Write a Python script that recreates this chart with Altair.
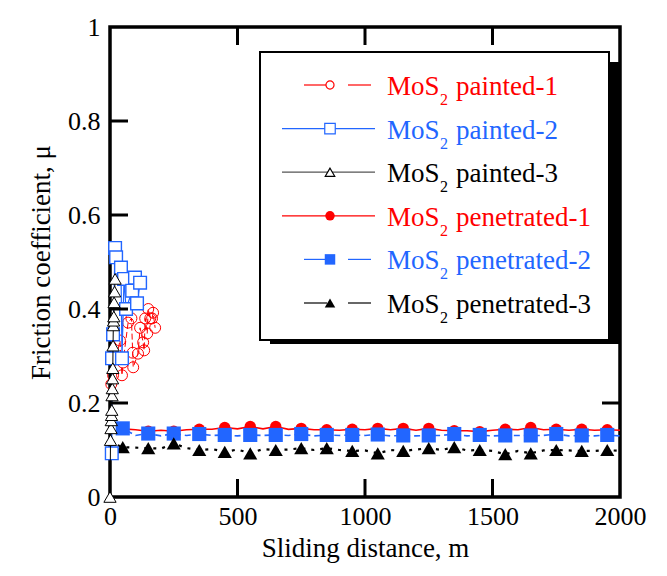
import altair as alt
import pandas as pd

# ---------------- data ----------------
# MoS2 painted-1 (open red circles, dashed red line)
painted1_x = [5, 12, 39, 47, 51, 71, 84, 89, 91, 110, 118, 130, 134, 138, 146, 150, 158, 165, 169, 177]
painted1_y = [0.24, 0.259, 0.333, 0.259, 0.286, 0.371, 0.38, 0.307, 0.276, 0.305, 0.36, 0.329, 0.312,
              0.38, 0.348, 0.40, 0.38, 0.38, 0.392, 0.36]
# MoS2 painted-2 (open blue squares, solid blue line)
painted2_x = [7, 8, 12, 20, 24, 43, 47, 55, 63, 87, 98, 106, 118]
painted2_y = [0.093, 0.295, 0.346, 0.53, 0.51, 0.488, 0.295, 0.464, 0.40, 0.439, 0.467, 0.412, 0.456]
# MoS2 painted-3 (open black triangles, solid black line)
painted3_x = [0, 2, 4, 5, 6, 7, 8, 9, 10, 11, 12, 13, 14, 15, 16, 18, 20]
painted3_y = [0.0, 0.121, 0.146, 0.163, 0.174, 0.185, 0.216, 0.231, 0.252, 0.274, 0.322, 0.365, 0.375,
              0.384, 0.414, 0.437, 0.464]

# penetrated series: markers every 100 m
pen_x = [50, 150, 250, 350, 450, 550, 650, 750, 850, 950, 1050, 1150, 1250, 1350, 1450, 1550, 1650,
         1750, 1850, 1950]
pen1_y = [0.145, 0.140, 0.140, 0.144, 0.148, 0.150, 0.150, 0.146, 0.143, 0.144, 0.146, 0.146, 0.146,
          0.141, 0.139, 0.144, 0.148, 0.144, 0.144, 0.143]
pen2_y = [0.146, 0.135, 0.135, 0.134, 0.132, 0.132, 0.132, 0.134, 0.132, 0.132, 0.133, 0.131, 0.131,
          0.134, 0.132, 0.131, 0.131, 0.134, 0.131, 0.132]
pen3_y = [0.106, 0.104, 0.114, 0.100, 0.096, 0.093, 0.100, 0.104, 0.104, 0.098, 0.093, 0.098, 0.104,
          0.106, 0.100, 0.091, 0.093, 0.100, 0.098, 0.100]
# continuous trace between the markers
line_x = [30, 100, 200, 300, 400, 500, 600, 700, 800, 900, 1000, 1100, 1200, 1300, 1400, 1500, 1600,
          1700, 1800, 1900, 2000]
pen1_line = [0.150, 0.143, 0.142, 0.143, 0.144, 0.145, 0.145, 0.144, 0.143, 0.142, 0.143, 0.143, 0.142,
             0.142, 0.141, 0.142, 0.143, 0.143, 0.142, 0.142, 0.142]
pen2_line = [0.150, 0.131, 0.130, 0.131, 0.131, 0.130, 0.131, 0.131, 0.130, 0.131, 0.131, 0.130, 0.130,
             0.131, 0.130, 0.130, 0.131, 0.131, 0.130, 0.130, 0.130]
pen3_line = [0.110, 0.105, 0.103, 0.104, 0.102, 0.101, 0.102, 0.101, 0.100, 0.100, 0.099, 0.100, 0.101,
             0.100, 0.099, 0.098, 0.098, 0.099, 0.099, 0.098, 0.098]

x_ticks = [0, 500, 1000, 1500, 2000]
y_ticks = [0, 0.2, 0.4, 0.6, 0.8, 1]
inner_x_ticks = [500, 1000, 1500]
inner_y_ticks = [0.2, 0.4, 0.6, 0.8]

legend_labels = ["painted-1", "painted-2", "painted-3", "penetrated-1", "penetrated-2", "penetrated-3"]

# ---------------- styling ----------------
W, H = 510, 470
FONT = "Times New Roman, Liberation Serif, DejaVu Serif, serif"
RED, BLUE, BLACK = "#ff0000", "#2266ff", "#000000"

xs = alt.Scale(domain=[0, 2000], nice=False)
ys = alt.Scale(domain=[0, 1], nice=False)
xaxis = alt.Axis(values=x_ticks, format="d", title="Sliding distance, m", labelPadding=6,
                 titlePadding=6, labelFlush=False)
yaxis = alt.Axis(values=y_ticks, format="~g", title="Friction coefficient, μ", labelPadding=10,
                 titlePadding=12, labelFlush=False)
X = alt.X("x:Q", scale=xs, axis=xaxis)
Y = alt.Y("y:Q", scale=ys, axis=yaxis)


def df(xv, yv):
    return pd.DataFrame({"x": xv, "y": yv})


def merged(mx, my, lx, ly):
    d = pd.concat([df(mx, my), df(lx, ly)]).sort_values("x").reset_index(drop=True)
    d["o"] = range(len(d))
    return d


layers = []

# penetrated lines
for (my, ly, col, dash, sw) in [(pen1_y, pen1_line, RED, None, 1.6),
                                (pen2_y, pen2_line, BLUE, [6, 4], 1.6),
                                (pen3_y, pen3_line, BLACK, [3, 6], 2.2)]:
    kw = dict(color=col, strokeWidth=sw)
    if dash:
        kw["strokeDash"] = dash
    layers.append(alt.Chart(merged(pen_x, my, line_x, ly)).mark_line(**kw).encode(
        x=X, y=Y, order="o:Q"))

# penetrated markers
layers.append(alt.Chart(df(pen_x, pen1_y)).mark_point(shape="circle", filled=True, size=130,
                                                       color=RED, opacity=1).encode(x=X, y=Y))
layers.append(alt.Chart(df(pen_x, pen2_y)).mark_point(shape="square", filled=True, size=200,
                                                       color=BLUE, opacity=1).encode(x=X, y=Y))
layers.append(alt.Chart(df(pen_x, pen3_y)).mark_point(shape="triangle-up", filled=True, size=200,
                                                       color=BLACK, opacity=1).encode(x=X, y=Y))

# painted-1
d1 = df(painted1_x, painted1_y)
d1["o"] = range(len(d1))
layers.append(alt.Chart(d1).mark_line(color=RED, strokeWidth=1, strokeDash=[6, 3]).encode(
    x=X, y=Y, order="o:Q"))
layers.append(alt.Chart(d1).mark_point(shape="circle", filled=False, size=120, color=RED,
                                       strokeWidth=1, opacity=1).encode(x=X, y=Y))
# painted-2
d2 = df(painted2_x, painted2_y)
d2["o"] = range(len(d2))
layers.append(alt.Chart(d2).mark_line(color=BLUE, strokeWidth=1.2).encode(x=X, y=Y, order="o:Q"))
layers.append(alt.Chart(d2).mark_point(shape="square", filled=True, size=160, fill="white",
                                       stroke=BLUE, strokeWidth=1.4, opacity=1).encode(x=X, y=Y))
# painted-3
d3 = df(painted3_x, painted3_y)
d3["o"] = range(len(d3))
layers.append(alt.Chart(d3).mark_line(color=BLACK, strokeWidth=1).encode(x=X, y=Y, order="o:Q"))
layers.append(alt.Chart(d3).mark_point(shape="triangle-up", filled=True, size=150, fill="white",
                                       stroke=BLACK, strokeWidth=1, opacity=1).encode(x=X, y=Y))

# inward ticks
TL = 18
tx = pd.DataFrame({"x": inner_x_ticks})
ty = pd.DataFrame({"y": inner_y_ticks})
layers.append(alt.Chart(tx).mark_rule(color=BLACK, strokeWidth=3).encode(
    x=X, y=alt.value(H), y2=alt.value(H - TL)))
layers.append(alt.Chart(tx).mark_rule(color=BLACK, strokeWidth=3).encode(
    x=X, y=alt.value(0), y2=alt.value(TL)))
layers.append(alt.Chart(ty).mark_rule(color=BLACK, strokeWidth=3).encode(
    y=Y, x=alt.value(0), x2=alt.value(TL)))
layers.append(alt.Chart(ty).mark_rule(color=BLACK, strokeWidth=3).encode(
    y=Y, x=alt.value(W), x2=alt.value(W - TL)))

# ---------------- legend box (pixel layout) ----------------
one = pd.DataFrame({"a": [0]})
LX0, LX1, LY0, LY1 = 150, 499, 25, 313
layers.append(alt.Chart(one).mark_rect(color=BLACK).encode(
    x=alt.value(LX0 + 10), x2=alt.value(LX1 + 11), y=alt.value(LY0 + 10), y2=alt.value(LY1 + 4)))
layers.append(alt.Chart(one).mark_rect(fill="white", stroke=BLACK, strokeWidth=2).encode(
    x=alt.value(LX0), x2=alt.value(LX1), y=alt.value(LY0), y2=alt.value(LY1)))

styles = [
    (RED, "circle", False, True, 65),
    (BLUE, "square", False, False, 110),
    (BLACK, "triangle-up", False, False, 90),
    (RED, "circle", True, False, 90),
    (BLUE, "square", True, True, 110),
    (BLACK, "triangle-up", True, True, 110),
]
for i, (lab, (col, shp, filled, dashed, sz)) in enumerate(zip(legend_labels, styles)):
    ry = 58 + 43.6 * i
    lc = "#555555" if col == BLACK and not filled else col
    if dashed:
        segs = [(194, 217), (238, 261)]
    else:
        segs = [(172, 265)]
    for a, b in segs:
        layers.append(alt.Chart(one).mark_rule(color=lc, strokeWidth=1.2).encode(
            x=alt.value(a), x2=alt.value(b), y=alt.value(ry)))
    if filled:
        pm = alt.Chart(one).mark_point(shape=shp, filled=True, size=sz, color=col, opacity=1)
    else:
        pm = alt.Chart(one).mark_point(shape=shp, filled=True, size=sz, fill="white", stroke=col,
                                       strokeWidth=1.2, opacity=1)
    layers.append(pm.encode(x=alt.value(220), y=alt.value(ry)))
    layers.append(alt.Chart(one).mark_text(align="left", baseline="alphabetic", font=FONT,
                                           fontSize=27, color=col).encode(
        x=alt.value(277), y=alt.value(ry + 10), text=alt.value("MoS")))
    layers.append(alt.Chart(one).mark_text(align="left", baseline="alphabetic", font=FONT,
                                           fontSize=16, color=col).encode(
        x=alt.value(330), y=alt.value(ry + 20), text=alt.value("2")))
    layers.append(alt.Chart(one).mark_text(align="left", baseline="alphabetic", font=FONT,
                                           fontSize=27, color=col).encode(
        x=alt.value(346), y=alt.value(ry + 10), text=alt.value(lab)))

chart = alt.layer(*layers).properties(
    width=W, height=H,
    autosize=alt.AutoSizeParams(type="none"),
    padding={"left": 102, "top": 19, "right": 39, "bottom": 71},
).configure_view(
    stroke=BLACK, strokeWidth=3.5
).configure_axis(
    grid=False, domain=False, ticks=False, tickSize=0,
    labelFont=FONT, titleFont=FONT, labelFontSize=26, titleFontSize=27,
    labelColor=BLACK, titleColor=BLACK, titleFontWeight="normal",
)

chart.save("out.html", embed_options={"renderer": "svg", "actions": False})
